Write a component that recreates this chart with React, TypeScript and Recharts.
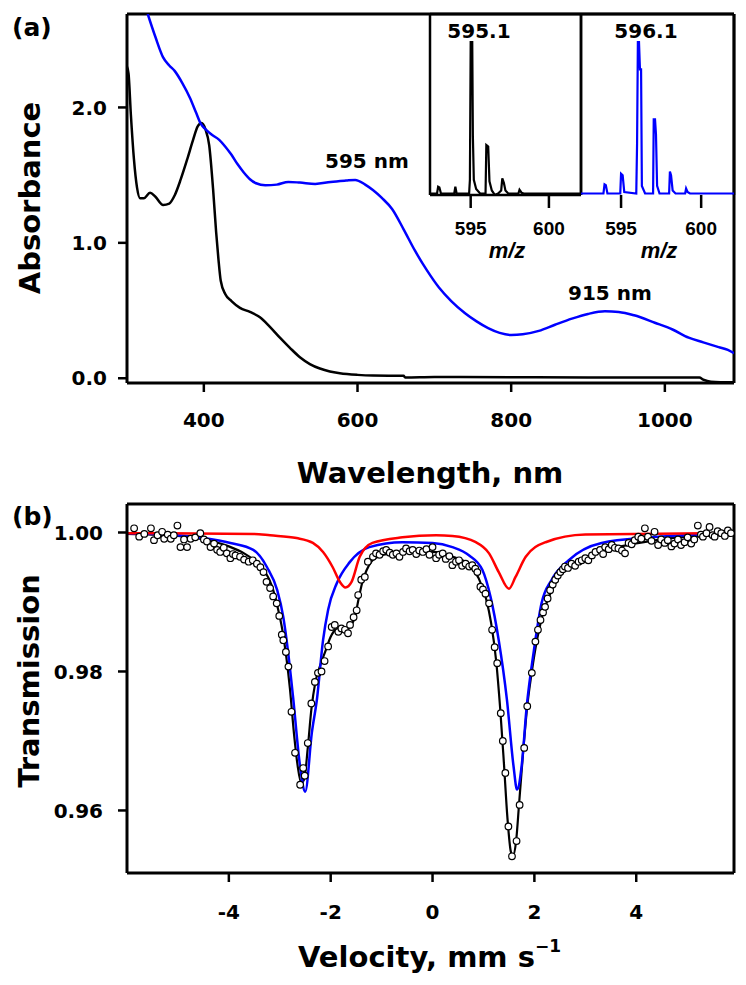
import React from 'react';
import { ComposedChart, LineChart, Line, Scatter, XAxis, YAxis, ReferenceLine } from 'recharts';

// ---------- Panel (a): UV-vis ----------
const uvBlack: [number, number][] = [
  [300, 2.30], [302, 2.25], [305, 1.95], [309, 1.62], [313, 1.41], [317, 1.33], [322, 1.33],
  [330, 1.37], [337, 1.34], [347, 1.28], [355, 1.29], [362, 1.35], [370, 1.47], [378, 1.61],
  [386, 1.76], [392, 1.86], [397, 1.885], [402, 1.84], [407, 1.72], [412, 1.40], [416, 1.08],
  [419, 0.88], [422, 0.72], [428, 0.62], [436, 0.57], [447, 0.52], [460, 0.49], [473, 0.45],
  [486, 0.38], [499, 0.30], [512, 0.225], [525, 0.155], [538, 0.105], [551, 0.072], [564, 0.05],
  [577, 0.037], [600, 0.025], [620, 0.02], [660, 0.018], [662, 0.006], [700, 0.01], [800, 0.008],
  [900, 0.006], [1000, 0.005], [1045, 0.005], [1050, -0.01], [1060, -0.025], [1090, -0.03],
];
const uvBlue: [number, number][] = [
  [327, 2.69], [337, 2.52], [347, 2.37], [355, 2.31], [362, 2.27], [372, 2.18], [382, 2.07],
  [390, 1.96], [396, 1.88], [402, 1.84], [410, 1.80], [420, 1.76], [428, 1.71], [436, 1.65],
  [444, 1.58], [452, 1.52], [460, 1.47], [468, 1.44], [480, 1.425], [495, 1.43], [510, 1.45],
  [525, 1.445], [545, 1.435], [565, 1.45], [585, 1.46], [597, 1.465], [610, 1.43], [620, 1.39],
  [632, 1.33], [645, 1.25], [660, 1.10], [675, 0.94], [690, 0.80], [706, 0.67], [722, 0.57],
  [740, 0.48], [755, 0.42], [770, 0.37], [785, 0.335], [800, 0.32], [815, 0.325], [836, 0.35],
  [857, 0.395], [879, 0.44], [900, 0.475], [922, 0.495], [940, 0.49], [960, 0.465], [987, 0.41],
  [1010, 0.36], [1031, 0.30], [1050, 0.265], [1070, 0.23], [1082, 0.21], [1090, 0.185],
];
const uvXTicks = [400, 600, 800, 1000];
const uvYTicks = [0, 1, 2];

// ---------- Inset: mass spectra ----------
const msBlack: [number, number][] = [
  [592.4, 0], [592.85, 0], [592.92, 0.045], [593.0, 0.04], [593.1, 0], [593.95, 0], [594.02, 0.045],
  [594.1, 0], [594.9, 0], [594.95, 0.09], [595.0, 1.0], [595.1, 1.0], [595.14, 0.38], [595.2, 0.09],
  [595.35, 0.03], [595.6, 0], [595.95, 0], [596.0, 0.32], [596.12, 0.31], [596.2, 0.08], [596.35, 0.02],
  [596.55, -0.01], [596.75, 0], [596.95, 0.02], [597.02, 0.10], [597.12, 0.07], [597.22, 0.02],
  [597.4, 0], [598.05, 0], [598.12, 0.025], [598.25, 0.005], [598.4, 0], [602.05, 0],
];
const msBlue: [number, number][] = [
  [592.5, 0], [593.9, 0], [593.97, 0.06], [594.05, 0.055], [594.15, 0], [594.95, 0], [595.0, 0.13],
  [595.1, 0.12], [595.2, 0.01], [595.95, 0], [596.0, 0.33], [596.05, 1.0], [596.12, 1.0], [596.18, 0.82],
  [596.25, 0.82], [596.3, 0.05], [596.5, 0], [597.0, 0], [597.04, 0.49], [597.12, 0.49], [597.18, 0.39],
  [597.25, 0.05], [597.4, 0], [598.0, 0], [598.05, 0.145], [598.12, 0.12], [598.22, 0.02], [598.4, 0],
  [599.0, 0], [599.06, 0.033], [599.15, 0.01], [599.3, 0], [602.05, 0],
];
const msXTicks = [595, 600];

// ---------- Panel (b): Mössbauer ----------
const mbData: [number, number][] = [
  [-5.86, 1.0006], [-5.76, 0.9994], [-5.66, 0.9998], [-5.53, 1.0006], [-5.47, 0.9989], [-5.40, 0.9996],
  [-5.31, 1.0001], [-5.27, 0.9991], [-5.20, 0.9997], [-5.14, 0.9991], [-5.08, 0.9996], [-5.01, 1.0010],
  [-4.95, 0.9979], [-4.88, 0.9990], [-4.82, 0.9979], [-4.75, 0.9991], [-4.66, 0.9993], [-4.56, 0.9999],
  [-4.49, 0.9990], [-4.43, 0.9987], [-4.36, 0.9979], [-4.29, 0.9984], [-4.23, 0.9975], [-4.17, 0.9972],
  [-4.10, 0.9978], [-4.04, 0.9970], [-3.97, 0.9963], [-3.92, 0.9969], [-3.87, 0.9967], [-3.78, 0.9965],
  [-3.70, 0.9961], [-3.61, 0.9958], [-3.53, 0.9960], [-3.45, 0.9955], [-3.38, 0.9950], [-3.32, 0.9943],
  [-3.26, 0.9929], [-3.19, 0.9920], [-3.13, 0.9908], [-3.06, 0.9898], [-3.01, 0.9880], [-2.96, 0.9853],
  [-2.93, 0.9845], [-2.88, 0.9828], [-2.83, 0.9807], [-2.77, 0.9742], [-2.70, 0.9683], [-2.60, 0.9637],
  [-2.54, 0.9661], [-2.51, 0.9650], [-2.45, 0.9697], [-2.38, 0.9754], [-2.31, 0.9785], [-2.25, 0.9798],
  [-2.18, 0.9800], [-2.12, 0.9815], [-2.05, 0.9836], [-1.98, 0.9864], [-1.92, 0.9867], [-1.85, 0.9857],
  [-1.79, 0.9862], [-1.72, 0.9860], [-1.66, 0.9855], [-1.62, 0.9867], [-1.55, 0.9878], [-1.49, 0.9888],
  [-1.46, 0.9910], [-1.40, 0.9932], [-1.33, 0.9936], [-1.27, 0.9958], [-1.17, 0.9965], [-1.11, 0.9970],
  [-1.04, 0.9968], [-0.97, 0.9973], [-0.91, 0.9975], [-0.84, 0.9971], [-0.78, 0.9968], [-0.71, 0.9970],
  [-0.65, 0.9965], [-0.58, 0.9972], [-0.52, 0.9977], [-0.45, 0.9973], [-0.39, 0.9975], [-0.32, 0.9969],
  [-0.26, 0.9974], [-0.19, 0.9972], [-0.12, 0.9976], [-0.06, 0.9968], [0.00, 0.9979], [0.07, 0.9963],
  [0.13, 0.9968], [0.20, 0.9970], [0.26, 0.9962], [0.33, 0.9966], [0.39, 0.9953], [0.46, 0.9958],
  [0.52, 0.9960], [0.58, 0.9952], [0.65, 0.9955], [0.72, 0.9951], [0.78, 0.9953], [0.84, 0.9948],
  [0.88, 0.9943], [0.94, 0.9922], [0.99, 0.9918], [1.04, 0.9912], [1.11, 0.9898], [1.17, 0.9860],
  [1.22, 0.9835], [1.27, 0.9812], [1.34, 0.9740], [1.38, 0.9700], [1.43, 0.9654], [1.49, 0.9577],
  [1.56, 0.9534], [1.65, 0.9556], [1.71, 0.9608], [1.80, 0.9690], [1.86, 0.9750], [1.95, 0.9798],
  [2.02, 0.9843], [2.07, 0.9860], [2.12, 0.9874], [2.17, 0.9885], [2.21, 0.9893], [2.26, 0.9905],
  [2.31, 0.9917], [2.36, 0.9925], [2.41, 0.9932], [2.46, 0.9938], [2.51, 0.9943], [2.56, 0.9947],
  [2.60, 0.9951], [2.66, 0.9949], [2.73, 0.9955], [2.80, 0.9952], [2.87, 0.9958], [2.93, 0.9960],
  [3.00, 0.9963], [3.06, 0.9960], [3.13, 0.9967], [3.20, 0.9972], [3.29, 0.9975], [3.35, 0.9969],
  [3.39, 0.9979], [3.46, 0.9976], [3.52, 0.9982], [3.58, 0.9978], [3.65, 0.9977], [3.72, 0.9974],
  [3.78, 0.9970], [3.85, 0.9985], [3.91, 0.9983], [3.97, 0.9989], [4.04, 0.9994], [4.10, 0.9991],
  [4.17, 1.0006], [4.23, 0.9994], [4.30, 0.9988], [4.36, 1.0001], [4.43, 0.9982], [4.49, 0.9990],
  [4.56, 0.9985], [4.62, 0.9989], [4.69, 0.9980], [4.75, 0.9984], [4.82, 0.9990], [4.88, 0.9982],
  [4.95, 0.9986], [5.01, 0.9993], [5.08, 0.9984], [5.14, 0.9990], [5.21, 1.0010], [5.27, 0.9997],
  [5.31, 0.9994], [5.38, 0.9999], [5.44, 1.0008], [5.50, 0.9996], [5.54, 0.9994], [5.60, 1.0002],
  [5.67, 0.9999], [5.74, 0.9995], [5.80, 1.0003], [5.86, 0.9999],
];
const mbFitTotal: [number, number][] = [
  [-6, 0.9998], [-5.5, 0.9997], [-5, 0.9995], [-4.5, 0.9990], [-4.0, 0.9980], [-3.7, 0.9970],
  [-3.5, 0.9960], [-3.3, 0.9945], [-3.15, 0.9922], [-3.05, 0.9895], [-2.95, 0.9860], [-2.87, 0.9820],
  [-2.8, 0.9775], [-2.72, 0.9710], [-2.65, 0.9665], [-2.58, 0.9640], [-2.52, 0.9645], [-2.45, 0.9690],
  [-2.38, 0.9745], [-2.3, 0.9785], [-2.2, 0.9810], [-2.1, 0.9830], [-2.0, 0.9850], [-1.9, 0.9860],
  [-1.8, 0.9862], [-1.7, 0.9860], [-1.6, 0.9866], [-1.52, 0.9880], [-1.45, 0.9905], [-1.38, 0.9928],
  [-1.3, 0.9945], [-1.2, 0.9958], [-1.05, 0.9966], [-0.8, 0.9970], [-0.4, 0.9972], [0, 0.9972],
  [0.4, 0.9965], [0.7, 0.9955], [0.9, 0.9935], [1.05, 0.9905], [1.15, 0.9870], [1.25, 0.9815],
  [1.33, 0.9745], [1.4, 0.9670], [1.47, 0.9590], [1.54, 0.9540], [1.58, 0.9535], [1.64, 0.9555],
  [1.7, 0.9610], [1.78, 0.9685], [1.86, 0.9750], [1.95, 0.9800], [2.05, 0.9845], [2.15, 0.9878],
  [2.3, 0.9910], [2.5, 0.9938], [2.8, 0.9955], [3.2, 0.9970], [3.7, 0.9980], [4.3, 0.9988],
  [5, 0.9994], [5.9, 0.9997],
];
const mbFitBlue: [number, number][] = [
  [-6, 0.9999], [-5, 0.9996], [-4.5, 0.9992], [-3.97, 0.9985], [-3.52, 0.9975], [-3.25, 0.9950],
  [-3.05, 0.9917], [-2.93, 0.9878], [-2.84, 0.9830], [-2.74, 0.9764], [-2.6, 0.9663], [-2.5, 0.9627],
  [-2.37, 0.9712], [-2.27, 0.9760], [-2.15, 0.9845], [-2.05, 0.9889], [-1.88, 0.9927], [-1.63, 0.9957],
  [-1.24, 0.9979], [-0.59, 0.9986], [0, 0.9985], [0.39, 0.9979], [0.72, 0.9967], [0.98, 0.9946],
  [1.14, 0.9907], [1.30, 0.9845], [1.46, 0.9760], [1.59, 0.9664], [1.66, 0.9630], [1.75, 0.9664],
  [1.85, 0.9750], [1.99, 0.9830], [2.14, 0.9898], [2.34, 0.9932], [2.67, 0.9960], [3.32, 0.9985],
  [4.29, 0.9993], [5.9, 0.9999],
];
const mbFitRed: [number, number][] = [
  [-6, 0.9999], [-3.5, 0.9998], [-3.19, 0.9996], [-2.67, 0.9992], [-2.35, 0.9985], [-2.15, 0.9972],
  [-1.96, 0.9950], [-1.82, 0.9929], [-1.71, 0.9921], [-1.59, 0.9929], [-1.43, 0.9965], [-1.18, 0.9985],
  [-0.59, 0.9993], [0.07, 0.9996], [0.39, 0.9995], [0.85, 0.9986], [1.11, 0.9970], [1.30, 0.9943],
  [1.50, 0.9919], [1.63, 0.9936], [1.83, 0.9965], [2.22, 0.9986], [3.0, 0.9997], [5.9, 0.9999],
];
const mbXTicks = [-4, -2, 0, 2, 4];
const mbYTicks = [0.96, 0.98, 1.0];

const pts = (a: [number, number][]) => a.map(([x, y]) => ({ x, y }));

const FONT = '"DejaVu Sans", sans-serif';
const axisLine = { stroke: '#000', strokeWidth: 3 };
const thinAxis = { stroke: '#000', strokeWidth: 2.5 };
const tickLine = { stroke: '#000', strokeWidth: 2.5 };
const tickText = { fontSize: 20, fontWeight: 700, fill: '#000', fontFamily: FONT };
const insetTick = { fontSize: 19, fontWeight: 700, fill: '#000', fontFamily: '"Liberation Sans", Arial, sans-serif' };

const UV_X: [number, number] = [300, 1090];
const UV_Y: [number, number] = [-0.035, 2.69];
const MB_X: [number, number] = [-6, 5.92];
const MB_Y: [number, number] = [0.951, 1.0041];
const MS_Y: [number, number] = [-0.01, 1.185];

const Circle = (p: any) => (
  <circle cx={p.cx} cy={p.cy} r={3.3} fill="#fff" stroke="#000" strokeWidth={1.2} />
);

function Inset({ data, color, domain, left, width, isLeft }: any) {
  return (
    <div style={{ position: 'absolute', left, top: 9 }}>
      <LineChart width={width + 10} height={237} margin={{ top: 5, right: 5, left: 5, bottom: 0 }}>
        <XAxis xAxisId="b" type="number" dataKey="x" domain={domain} allowDataOverflow ticks={msXTicks}
          interval={0} height={51} tickSize={13} tickMargin={14}
          axisLine={isLeft ? thinAxis : false} tickLine={tickLine} tick={insetTick} />
        <YAxis yAxisId="l" type="number" dataKey="y" domain={MS_Y} allowDataOverflow width={0} hide />
        <ReferenceLine xAxisId="b" yAxisId="l" y={MS_Y[1]} stroke="#000" strokeWidth={2.5} />
        <ReferenceLine xAxisId="b" yAxisId="l" x={domain[0]} stroke="#000" strokeWidth={2.5} />
        <ReferenceLine xAxisId="b" yAxisId="l" x={domain[1]} stroke="#000" strokeWidth={2.5} />
        <Line xAxisId="b" yAxisId="l" data={pts(data)} dataKey="y" type="linear" stroke={color}
          strokeWidth={2.2} dot={false} activeDot={false} isAnimationActive={false} />
      </LineChart>
    </div>
  );
}

export default function App() {
  return (
    <div style={{ position: 'absolute', left: 0, top: 0, width: 746, height: 985, background: '#fff' }}>
      <div style={{ position: 'absolute', left: 0, top: 0 }}>
        <ComposedChart width={746} height={480} margin={{ top: 14, right: 12, left: 67, bottom: 47 }}>
          <XAxis xAxisId="b" type="number" dataKey="x" domain={UV_X} allowDataOverflow ticks={uvXTicks}
            interval={0} height={50} tickSize={9} tickMargin={21} axisLine={axisLine} tickLine={tickLine} tick={tickText} />
          <YAxis yAxisId="l" type="number" dataKey="y" domain={UV_Y} allowDataOverflow ticks={uvYTicks}
            interval={0} tickFormatter={(v: number) => v.toFixed(1)} width={60} tickSize={9} tickMargin={11}
            axisLine={axisLine} tickLine={tickLine} tick={tickText} />
          <ReferenceLine xAxisId="b" yAxisId="l" y={UV_Y[1]} stroke="#000" strokeWidth={3} />
          <ReferenceLine xAxisId="b" yAxisId="l" x={UV_X[1]} stroke="#000" strokeWidth={3} />
          <Line xAxisId="b" yAxisId="l" data={pts(uvBlack)} dataKey="y" type="monotone" stroke="#000"
            strokeWidth={2.5} dot={false} activeDot={false} isAnimationActive={false} />
          <Line xAxisId="b" yAxisId="l" data={pts(uvBlue)} dataKey="y" type="monotone" stroke="#0000ff"
            strokeWidth={2.5} dot={false} activeDot={false} isAnimationActive={false} />
        </ComposedChart>
      </div>

      <Inset data={msBlack} color="#000" domain={[592.4, 602.05]} left={425} width={151} isLeft />
      <Inset data={msBlue} color="#0000ff" domain={[592.5, 602.05]} left={576} width={153} isLeft={false} />

      <div style={{ position: 'absolute', left: 0, top: 490 }}>
        <ComposedChart width={746} height={495} margin={{ top: 14, right: 12, left: 67, bottom: 62 }}>
          <XAxis xAxisId="b" type="number" dataKey="x" domain={MB_X} allowDataOverflow ticks={mbXTicks}
            interval={0} height={50} tickSize={9} tickMargin={23} axisLine={axisLine} tickLine={tickLine} tick={tickText} />
          <YAxis yAxisId="l" type="number" dataKey="y" domain={MB_Y} allowDataOverflow ticks={mbYTicks}
            interval={0} tickFormatter={(v: number) => v.toFixed(2)} width={60} tickSize={9} tickMargin={15}
            axisLine={axisLine} tickLine={tickLine} tick={tickText} />
          <ReferenceLine xAxisId="b" yAxisId="l" y={MB_Y[1]} stroke="#000" strokeWidth={3} />
          <ReferenceLine xAxisId="b" yAxisId="l" x={MB_X[1]} stroke="#000" strokeWidth={3} />
          <Line xAxisId="b" yAxisId="l" data={pts(mbFitTotal)} dataKey="y" type="monotone" stroke="#000"
            strokeWidth={2.2} dot={false} activeDot={false} isAnimationActive={false} />
          <Line xAxisId="b" yAxisId="l" data={pts(mbFitBlue)} dataKey="y" type="monotone" stroke="#0000ff"
            strokeWidth={2.5} dot={false} activeDot={false} isAnimationActive={false} />
          <Line xAxisId="b" yAxisId="l" data={pts(mbFitRed)} dataKey="y" type="monotone" stroke="#ff0000"
            strokeWidth={2.5} dot={false} activeDot={false} isAnimationActive={false} />
          <Scatter xAxisId="b" yAxisId="l" data={pts(mbData)} dataKey="y" shape={Circle} isAnimationActive={false} />
        </ComposedChart>
      </div>

      <svg width={746} height={985} style={{ position: 'absolute', left: 0, top: 0, pointerEvents: 'none' }}
        fontFamily={FONT} fontWeight={700} fill="#000">
        <text x={12} y={36} fontSize={25}>(a)</text>
        <text x={12} y={525} fontSize={25}>(b)</text>
        <text transform="translate(40,198) rotate(-90)" textAnchor="middle" fontSize={29}>Absorbance</text>
        <text transform="translate(39,681) rotate(-90)" textAnchor="middle" fontSize={29}>Transmission</text>
        <text x={430} y={483} textAnchor="middle" fontSize={29}>Wavelength, nm</text>
        <text x={298} y={967} fontSize={29}>
          Velocity, mm s<tspan fontSize={17} dy={-15}>−1</tspan>
        </text>
        <text x={325} y={168} fontSize={20}>595 nm</text>
        <text x={568} y={300} fontSize={20}>915 nm</text>
        <text x={479} y={38} textAnchor="middle" fontSize={20}>595.1</text>
        <text x={646} y={38} textAnchor="middle" fontSize={20}>596.1</text>
        <text x={507} y={258} textAnchor="middle" fontSize={22} fontStyle="italic"
          fontFamily='"Liberation Sans", Arial, sans-serif'>m/z</text>
        <text x={659} y={258} textAnchor="middle" fontSize={22} fontStyle="italic"
          fontFamily='"Liberation Sans", Arial, sans-serif'>m/z</text>
      </svg>
    </div>
  );
}
